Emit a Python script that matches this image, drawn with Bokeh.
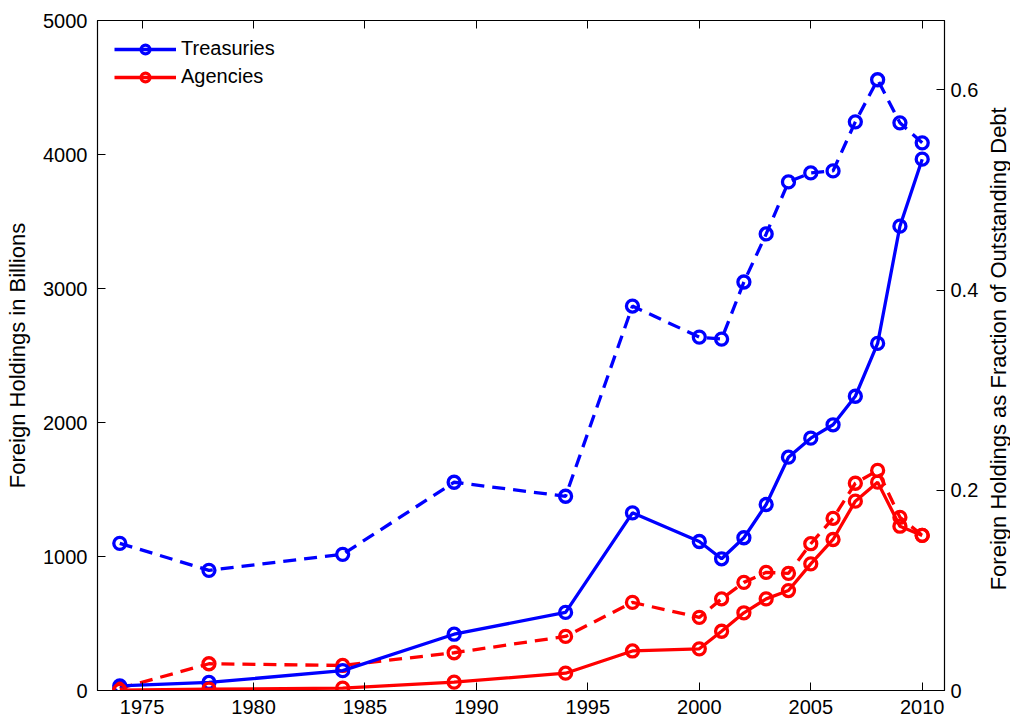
import math
from bokeh.plotting import figure
from bokeh.layouts import row
from bokeh.models import (Range1d, LinearAxis, SingleIntervalTicker, FixedTicker,
                          CustomJSTickFormatter, Legend, LegendItem, BasicTickFormatter)
from bokeh.core.properties import value
from bokeh.embed import file_html
from bokeh.resources import INLINE

years = [1974, 1978, 1984, 1989, 1994, 1997, 2000, 2001, 2002, 2003, 2004,
         2005, 2006, 2007, 2008, 2009, 2010]
treasury_holdings = [35, 60, 148, 420, 583, 1326, 1112, 983, 1140, 1388, 1741,
                     1883, 1983, 2196, 2590, 3465, 3965]
treasury_fraction = [0.147, 0.120, 0.136, 0.208, 0.194, 0.384, 0.353, 0.351, 0.408,
                     0.456, 0.508, 0.517, 0.519, 0.568, 0.610, 0.567, 0.547]
agency_holdings = [2, 10, 18, 62, 129, 295, 311, 442, 580, 684, 746,
                   945, 1127, 1413, 1555, 1226, 1157]
agency_fraction = [0.002, 0.0267, 0.025, 0.0377, 0.054, 0.088, 0.073, 0.0916, 0.108,
                   0.118, 0.117, 0.1466, 0.172, 0.207, 0.2198, 0.173, 0.155]

left_ticks = [0, 1000, 2000, 3000, 4000, 5000]
right_ticks = [0, 0.2, 0.4, 0.6]
left_label = "Foreign Holdings in Billions"
right_label = "Foreign Holdings as Fraction of Outstanding Debt"

FONT = "Liberation Sans"
TICK_SIZE = "20px"
LABEL_SIZE = "22px"
H = 718

p = figure(width=981, height=H, output_backend="svg", toolbar_location=None,
           x_range=Range1d(1973, 2011), y_range=Range1d(0, 5000),
           min_border_left=97, min_border_top=20, min_border_right=35,
           min_border_bottom=28)
p.background_fill_color = "white"
p.border_fill_color = "white"
p.outline_line_color = "black"
p.outline_line_width = 1.2
p.xgrid.visible = False
p.ygrid.visible = False
p.extra_y_ranges = {"frac": Range1d(0, 0.6692)}

def style_axis(ax, standoff):
    ax.major_tick_in = 8
    ax.major_tick_out = 0
    ax.minor_tick_line_color = None
    ax.axis_line_color = "black"
    ax.major_tick_line_color = "black"
    ax.major_label_text_font = FONT
    ax.major_label_text_font_size = TICK_SIZE
    ax.major_label_text_color = "black"
    ax.major_label_standoff = standoff
    ax.axis_label_text_font = FONT
    ax.axis_label_text_font_size = LABEL_SIZE
    ax.axis_label_text_font_style = "normal"
    ax.axis_label_text_color = "black"

xa = p.xaxis[0]
xa.ticker = SingleIntervalTicker(interval=5)
style_axis(xa, 5)

ya = p.yaxis[0]
ya.ticker = FixedTicker(ticks=left_ticks)
ya.formatter = BasicTickFormatter(use_scientific=False)
ya.axis_label = left_label
ya.axis_label_standoff = 10
style_axis(ya, 10)

ra = LinearAxis(y_range_name="frac", ticker=FixedTicker(ticks=right_ticks),
                formatter=CustomJSTickFormatter(code="return tick == 0 ? '0' : tick.toFixed(1);"))
style_axis(ra, 6)
p.add_layout(ra, "right")

ta = LinearAxis(ticker=SingleIntervalTicker(interval=5))
style_axis(ta, 0)
ta.major_label_text_font_size = "0px"
ta.major_label_text_alpha = 0
p.add_layout(ta, "above")

BLUE = "#0000ff"
RED = "#ff0000"
LW = 3.3
MS = 12
DASH = "13 8"

# dashed fraction series (right axis)
p.line(years, treasury_fraction, y_range_name="frac", line_color=BLUE,
       line_width=LW, line_dash=DASH)
p.scatter(years, treasury_fraction, y_range_name="frac", marker="circle", size=MS,
          fill_color=None, line_color=BLUE, line_width=LW)
p.line(years, agency_fraction, y_range_name="frac", line_color=RED,
       line_width=LW, line_dash=DASH)
p.scatter(years, agency_fraction, y_range_name="frac", marker="circle", size=MS,
          fill_color=None, line_color=RED, line_width=LW)

# solid holdings series (left axis)
tl = p.line(years, treasury_holdings, line_color=BLUE, line_width=LW)
tc = p.scatter(years, treasury_holdings, marker="circle", size=MS,
               fill_color=None, line_color=BLUE, line_width=LW)
al = p.line(years, agency_holdings, line_color=RED, line_width=LW)
ac = p.scatter(years, agency_holdings, marker="circle", size=MS,
               fill_color=None, line_color=RED, line_width=LW)

legend = Legend(items=[LegendItem(label="Treasuries", renderers=[tl, tc]),
                       LegendItem(label="Agencies", renderers=[al, ac])],
                location="top_left", margin=12, padding=5, spacing=5,
                glyph_width=62, glyph_height=22, label_height=14,
                label_text_font=FONT, label_text_font_size="20px",
                label_text_color="black", label_standoff=5,
                border_line_alpha=0, background_fill_alpha=0)
p.add_layout(legend)

# narrow strip on the right that carries the right-hand axis title (bottom-to-top)
p2 = figure(width=29, height=H, output_backend="svg", toolbar_location=None,
            x_range=Range1d(0, 29), y_range=Range1d(0, 1),
            x_axis_type=None, y_axis_type=None,
            min_border_left=0, min_border_right=0, min_border_top=20,
            min_border_bottom=28)
p2.outline_line_color = None
p2.xgrid.visible = False
p2.ygrid.visible = False
p2.text(x=[17], y=[0.51], text=[right_label], angle=math.pi / 2,
        text_align="center", text_baseline="middle",
        text_font=value(FONT), text_font_size=LABEL_SIZE, text_color="black")

layout = row(p, p2, spacing=0)
open("out.html", "w").write(file_html(layout, INLINE))
